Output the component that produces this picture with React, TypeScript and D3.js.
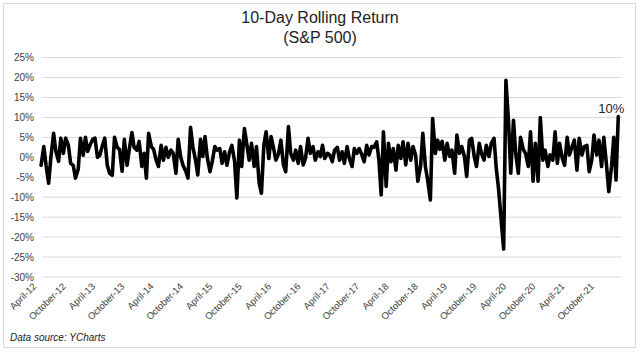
import React from "react";
import * as d3 from "d3";

// 10-day rolling return (%) sampled twice a month (1st & 15th)
const ret2012 = [-2, 2.7, -2, -6.5, 0, 6, 1.5, -1, 4.8, 1, 4.8, 3, -1.5, -2, -5.2]; // from May 15
const ret2013 = [-3, 4.8, 0.5, 5, 1.5, 3, 4.5, 4.8, 0, 0.5, 3, 4.8, -2, -4, -4.5, 5, 2.5, 2, -3.5, 4.5, -2, 2, 6.2, 2.5];
const ret2014 = [1.8, 4, -2.3, 1, -5.2, 6, 2.7, 2, -0.7, -2.3, 3, -0.7, 2.5, 0, 1.8, 1, -4, 4.5, 0, -2, -3.5, -5.2, 7.5, 2.7];
const ret2015 = [-0.7, -4.4, 4.5, 0.2, 5.2, 0, -3.6, -1, 2.7, 1.8, 2.2, -1.5, 1.4, -2, 1.4, 3, -1, -10.2, 4.3, -2.3, 7.2, 3.5, -0.7, 3.5];
const ret2016 = [-2.3, 2.7, -6.5, -9, 3, 6.4, -0.3, 5.2, 2.2, -0.7, 1, 4.3, -1.9, -3.6, 7.7, 1, -0.7, 1.8, -1.5, 2.7, -1.9, -0.3, 4.75, 1];
const ret2017 = [2.7, -0.7, 1.4, 0.2, 3, -0.3, 1, 0.6, -1.1, 1.8, 2.5, -0.7, 1.4, -1.5, 2.7, -0.3, -2.3, 2.2, 1, 2.2, 0.6, -1.1, 3, 0.6];
const ret2018 = [2.7, 2.5, 3.9, -0.7, -9.4, 6.4, -7.3, 3.5, -1.1, 2.2, -3.2, 3, -0.3, 3.9, -1.9, 3.5, -0.7, 2.7, 0.6, -6, -2.3, 6, -2.3, -5.7];
const ret2019 = [-10.7, 9.75, 1, 4.3, 2, 4, -0.7, 3.5, 0.2, 1.8, -4, 5.6, 1, 2.7, 0.2, -4.8, 4.3, 4.75, 0.2, -2.3, 3.5, 1, -0.7, 3];
const ret2020 = [0.2, 3.5, 4.75, -2.75, -8.2, -15, -23, 19.3, 9, -4, 9.3, 1, -4, 5, 2, 1, -2.3, 6.4, -6, 3.5, -6, 10, -0.7, 1.8];
const ret2021 = [-2.3, 0.6, -0.7, 6.4, -1.5, 3.5, -0.3, -2, 5, 0.6, 2.7, 4.3, -3.2, 4.75, 0.6, 2.7, 3, -3.6, -0.7, 5.6, 0.6, 4.3, -2.3, 5];
const ret2022 = [-2, -8.6, -2.3, 5, -5.7, 10.2]; // to Mar 15

const yearSeries = [
  { year: 2012, firstSlot: 9, values: ret2012 },
  { year: 2013, firstSlot: 0, values: ret2013 },
  { year: 2014, firstSlot: 0, values: ret2014 },
  { year: 2015, firstSlot: 0, values: ret2015 },
  { year: 2016, firstSlot: 0, values: ret2016 },
  { year: 2017, firstSlot: 0, values: ret2017 },
  { year: 2018, firstSlot: 0, values: ret2018 },
  { year: 2019, firstSlot: 0, values: ret2019 },
  { year: 2020, firstSlot: 0, values: ret2020 },
  { year: 2021, firstSlot: 0, values: ret2021 },
  { year: 2022, firstSlot: 0, values: ret2022 },
];

const yTicks = [25, 20, 15, 10, 5, 0, -5, -10, -15, -20, -25, -30];
const xTickLabels = [
  "April-12", "October-12", "April-13", "October-13", "April-14", "October-14",
  "April-15", "October-15", "April-16", "October-16", "April-17", "October-17",
  "April-18", "October-18", "April-19", "October-19", "April-20", "October-20",
  "April-21", "October-21",
];
const titleLines = ["10-Day Rolling Return", "(S&P 500)"];
const endLabel = "10%";
const sourceNote = "Data source: YCharts";

type Pt = { date: Date; v: number };

const data: Pt[] = yearSeries.flatMap((s) =>
  s.values.map((v, j) => {
    const slot = s.firstSlot + j;
    return { date: new Date(s.year, Math.floor(slot / 2), slot % 2 === 0 ? 1 : 15), v };
  })
);

const tickDates = xTickLabels.map((_, k) => new Date(2012, 3 + 6 * k, 1));

export default function App() {
  const W = 640;
  const H = 352;
  const x = d3.scaleTime().domain([new Date(2012, 3, 1), new Date(2022, 3, 1)]).range([34, 621]);
  const y = d3.scaleLinear().domain([-30, 25]).range([277, 57.6]);
  const gridX0 = 42;
  const gridX1 = 622;
  const line = d3
    .line<Pt>()
    .x((d) => x(d.date))
    .y((d) => y(d.v));
  const last = data[data.length - 1];
  const font = "'Liberation Sans', Arial, sans-serif";

  return (
    <svg
      width={W}
      height={H}
      style={{ position: "absolute", left: 0, top: 0, background: "#fff" }}
      fontFamily={font}
    >
      <rect x={0} y={0} width={W} height={H} fill="#fff" />
      <rect x={3.5} y={3.5} width={632} height={344} fill="none" stroke="#d9d9d9" strokeWidth={1} />
      {titleLines.map((t, i) => (
        <text key={t} x={320} y={23 + i * 20} textAnchor="middle" fontSize={16} fill="#222">
          {t}
        </text>
      ))}
      {yTicks.map((t) => (
        <g key={t}>
          <line x1={gridX0} x2={gridX1} y1={y(t)} y2={y(t)} stroke="#d9d9d9" strokeWidth={1} />
          <text x={34} y={y(t) + 3.5} textAnchor="end" fontSize={10} fill="#404040">
            {`${t}%`}
          </text>
        </g>
      ))}
      {xTickLabels.map((lab, k) => {
        const tx = x(tickDates[k]) + 3;
        const ty = 287;
        return (
          <text
            key={lab}
            x={tx}
            y={ty}
            textAnchor="end"
            fontSize={9.5}
            fill="#404040"
            transform={`rotate(-45 ${tx} ${ty})`}
          >
            {lab}
          </text>
        );
      })}
      <path
        d={line(data) || ""}
        fill="none"
        stroke="#000"
        strokeWidth={3.6}
        strokeLinejoin="round"
        strokeLinecap="round"
      />
      <text x={x(last.date) - 7} y={113} textAnchor="middle" fontSize={13} fill="#222">
        {endLabel}
      </text>
      <text x={10} y={341} fontSize={10} fontStyle="italic" fill="#222">
        {sourceNote}
      </text>
    </svg>
  );
}
